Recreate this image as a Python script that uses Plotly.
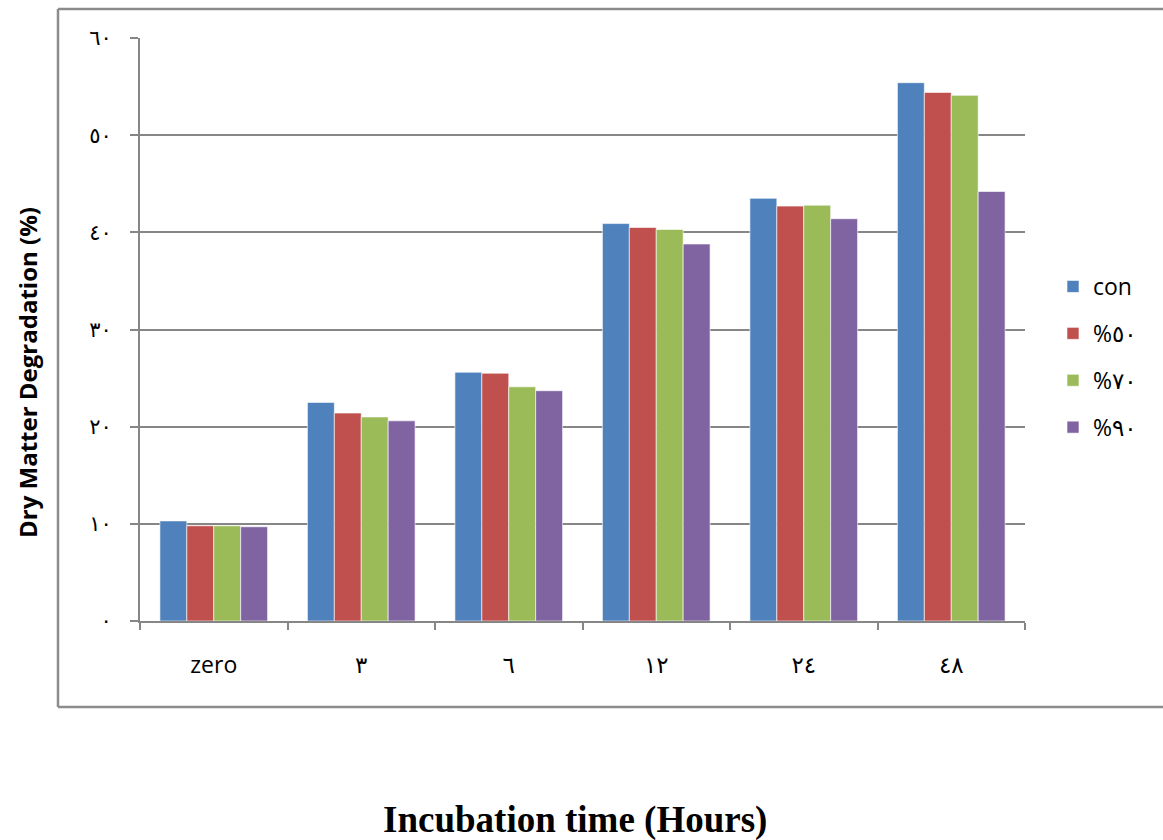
import plotly.graph_objects as go

categories = ["zero", "٣", "٦", "١٢", "٢٤", "٤٨"]
series_names = ["con", "%٥٠", "%٧٠", "%٩٠"]
con = [10.3, 22.5, 25.6, 40.9, 43.5, 55.4]
p50 = [9.8, 21.4, 25.5, 40.5, 42.7, 54.4]
p70 = [9.8, 21.0, 24.1, 40.3, 42.8, 54.1]
p90 = [9.7, 20.6, 23.7, 38.8, 41.4, 44.2]
y_tickvals = [0, 10, 20, 30, 40, 50, 60]
y_ticktext = ["٠", "١٠", "٢٠", "٣٠", "٤٠", "٥٠", "٦٠"]

colors = ["#4F81BD", "#C0504D", "#9BBB59", "#8064A2"]
W, H = 1163, 840
L, R, T, B = 140, 1025, 38, 621

fig = go.Figure()
for i, (name, vals) in enumerate(zip(series_names, [con, p50, p70, p90])):
    fig.add_trace(go.Bar(
        x=categories, y=vals, name=name, legendgroup=name,
        marker=dict(color=colors[i], line=dict(color="rgba(255,255,255,0.6)", width=1)),
    ))

def px_x(p):
    return (p - L) / (R - L)

def px_y(p):
    return (B - p) / (B - T)

gray = "#868686"
shapes = []
frame = [(58, 9, 1170, 9), (58, 9, 58, 707), (58, 707, 1170, 707)]
for x0, y0, x1, y1 in frame:
    shapes.append(dict(type="line", xref="paper", yref="paper",
                       x0=px_x(x0), y0=px_y(y0), x1=px_x(x1), y1=px_y(y1),
                       line=dict(color="#8c8c8c", width=2.5)))

fig.update_layout(
    width=W, height=H,
    margin=dict(l=L, r=W - R, t=T, b=H - B, autoexpand=False),
    paper_bgcolor="white", plot_bgcolor="white",
    barmode="group", bargap=0.27, bargroupgap=0,
    showlegend=True,
    legend=dict(x=px_x(1053), y=px_y(357), xanchor="left", yanchor="middle",
                font=dict(family="Open Sans, DejaVu Sans", size=23, color="black"),
                tracegroupgap=14, itemwidth=30),
    shapes=shapes,
    xaxis=dict(
        type="category", tickson="boundaries", ticks="outside", ticklen=7,
        tickcolor=gray, tickwidth=2, showline=True, linecolor=gray, linewidth=2,
        showgrid=False, ticklabelstandoff=22,
        tickfont=dict(family="Open Sans, DejaVu Sans", size=23, color="black"),
    ),
    yaxis=dict(
        range=[0, 60], tickvals=y_tickvals, ticktext=y_ticktext,
        ticks="outside", ticklen=8, tickcolor=gray, tickwidth=2,
        showline=True, linecolor=gray, linewidth=2,
        showgrid=True, gridcolor=gray, gridwidth=2, zeroline=False,
        ticklabelstandoff=14,
        tickfont=dict(family="DejaVu Sans", size=21, color="black"),
    ),
    annotations=[
        dict(text="<b>Incubation time (Hours)</b>", xref="paper", yref="paper",
             x=px_x(575), y=px_y(820), xanchor="center", yanchor="middle",
             showarrow=False,
             font=dict(family="Liberation Serif", size=37, color="black")),
        dict(text="<b>Dry Matter Degradation (%)</b>", xref="paper", yref="paper",
             x=px_x(27), y=px_y(373), xanchor="center", yanchor="middle",
             textangle=-90, showarrow=False,
             font=dict(family="Open Sans, DejaVu Sans", size=24, color="black")),
    ],
)

fig.write_html("out.html", config={"displayModeBar": False},
               post_script="document.body.style.margin='0';")
